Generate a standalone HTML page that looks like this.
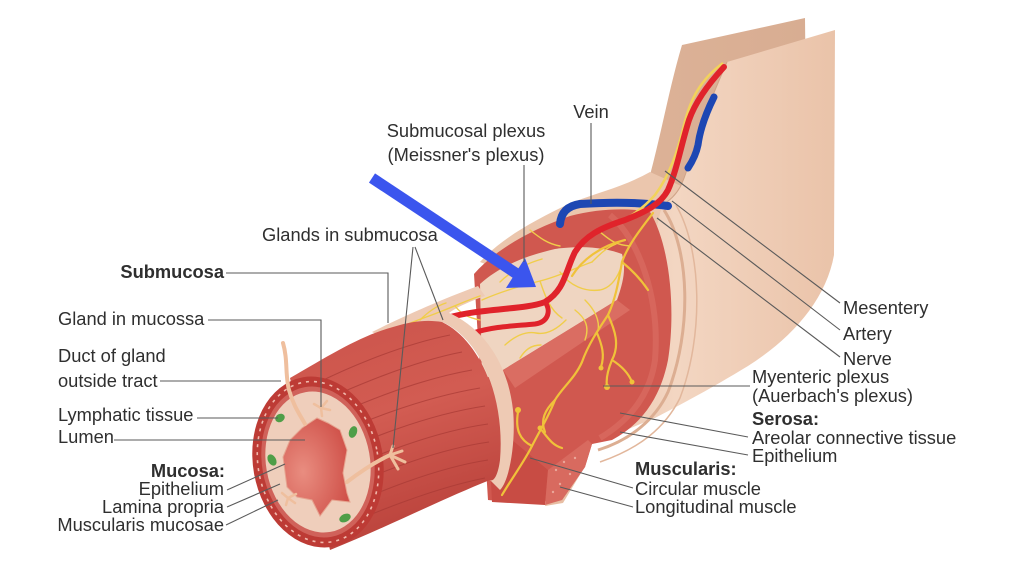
<!DOCTYPE html>
<html><head><meta charset="utf-8">
<style>
html,body{margin:0;padding:0;background:#fff;}
svg{display:block;}
text{font-family:"Liberation Sans",Arial,sans-serif;font-size:18.3px;fill:#2f2f2f;}
.b{font-weight:bold;}
.ln{stroke:#5a5a5a;stroke-width:1.1;fill:none;}
.ny{stroke:#f0cd4a;stroke-width:1.4;fill:none;stroke-linecap:round;}
.nm{stroke:#f0c23a;stroke-width:2.2;fill:none;stroke-linecap:round;}
.st{stroke:#a83a35;stroke-width:1.1;fill:none;opacity:0.7;}
</style></head><body>
<svg width="1024" height="576" viewBox="0 0 1024 576" xmlns="http://www.w3.org/2000/svg">
<defs>
 <linearGradient id="mes" x1="0" y1="0" x2="1" y2="0">
  <stop offset="0" stop-color="#e6bba0"/><stop offset="0.45" stop-color="#f3d6c2"/><stop offset="1" stop-color="#eac3a9"/>
 </linearGradient>
 <linearGradient id="back" x1="0" y1="0" x2="1" y2="0">
  <stop offset="0" stop-color="#e0b69b"/><stop offset="1" stop-color="#d8ad92"/>
 </linearGradient>
 <radialGradient id="lum" cx="0.3" cy="0.55" r="0.7">
  <stop offset="0" stop-color="#e98d80"/><stop offset="1" stop-color="#d0524a"/>
 </radialGradient>
 <linearGradient id="tube" x1="0" y1="0" x2="0.3" y2="1">
  <stop offset="0" stop-color="#cc544b"/><stop offset="0.5" stop-color="#d25c52"/><stop offset="1" stop-color="#bb433c"/>
 </linearGradient>
</defs>

<!-- mesentery back sheet -->
<path d="M 500 245 C 550 215, 610 195, 650 175 C 662 130, 670 85, 682 45 L 805 18 L 806 110 L 720 240 L 520 260 Z" fill="url(#back)"/>
<!-- tube outer top surface -->
<path d="M 480 262 C 500 240, 530 222, 573 202 C 600 192, 625 186, 650 172 L 690 190 L 690 240 L 500 270 Z" fill="#ebc6ad"/>
<!-- front sheet + outer tube surface -->
<path d="M 662 205 C 680 195, 684 180, 690 160 C 702 120, 714 92, 727 62 L 835 30 L 834 255 C 826 300, 792 338, 748 366 C 712 388, 680 405, 655 418 L 590 445 L 584 468 L 563 503 L 545 506 L 560 440 L 640 300 Z" fill="url(#mes)"/>
<path d="M 727 62 C 714 92, 702 120, 690 160 C 684 180, 680 195, 662 205" fill="none" stroke="#cfa488" stroke-width="1"/>
<!-- serosa layer lines -->
<path d="M 664 210 C 690 250, 692 330, 668 392 C 655 420, 630 440, 598 450" fill="none" stroke="#dcae92" stroke-width="3"/>
<path d="M 676 205 C 702 250, 704 335, 680 398 C 665 428, 640 448, 600 462" fill="none" stroke="#e2b79c" stroke-width="1.5"/>

<!-- big tube muscle -->
<path d="M 474 274 C 495 250, 530 230, 570 216 C 600 208, 630 208, 650 212 C 670 245, 676 310, 668 360 C 660 400, 640 425, 612 440 L 592 444 L 585 467 L 562 500 L 520 503 L 488 500 Z" fill="#d0584f"/>
<path d="M 610 215 C 640 240, 660 300, 655 360 C 650 395, 630 420, 600 438" fill="none" stroke="#dc7066" stroke-width="6" opacity="0.6"/>
<!-- circular muscle lower faces -->
<path d="M 488 420 L 548 470 L 545 505 L 492 502 Z" fill="#c84c44"/>
<path d="M 548 470 L 588 440 L 592 444 L 585 467 L 562 500 L 545 505 Z" fill="#d86a5f"/>
<g fill="#efb5a8" opacity="0.8">
<circle cx="556" cy="470" r="1.2"/><circle cx="564" cy="462" r="1.2"/><circle cx="560" cy="484" r="1.2"/><circle cx="570" cy="474" r="1.2"/><circle cx="553" cy="492" r="1.2"/><circle cx="575" cy="458" r="1.2"/>
</g>
<!-- pale submucosa -->
<path d="M 480 284 C 500 266, 525 256, 555 249 C 585 245, 605 248, 622 254 C 626 268, 624 280, 617 300 L 503 370 L 482 380 Z" fill="#efd5c1"/>
<!-- diagonal cut face -->
<path d="M 503 370 L 617 300 L 630 310 L 515 388 Z" fill="#da6d62"/>
<!-- beige band above front tube -->
<path d="M 372 332 C 400 318, 440 300, 478 286 L 485 296 C 460 305, 440 315, 445 322 L 388 340 Z" fill="#eecab4"/>

<!-- submucosal plexus nerves -->
<g class="ny">
<path d="M 482 300 C 500 292, 520 286, 540 281 C 560 276, 575 268, 592 262"/>
<path d="M 500 282 C 510 272, 525 264, 542 259"/>
<path d="M 540 281 C 545 296, 550 310, 562 318"/>
<path d="M 560 272 C 570 286, 585 292, 600 290 C 610 288, 616 280, 620 270"/>
<path d="M 592 262 C 600 254, 606 248, 616 244"/>
<path d="M 505 345 C 515 336, 525 331, 536 333 C 546 335, 556 330, 566 320"/>
<path d="M 520 358 C 525 350, 531 345, 541 345"/>
<path d="M 585 300 C 595 310, 600 320, 598 331"/>
<path d="M 575 310 C 585 318, 590 326, 585 340"/>
<path d="M 395 330 C 410 322, 425 318, 442 311 C 455 306, 468 300, 480 296"/>
<path d="M 420 320 C 428 312, 436 306, 446 303"/>
<path d="M 455 306 C 462 315, 470 318, 480 320"/>
<path d="M 530 230 C 540 238, 548 244, 560 246"/>
<path d="M 600 232 C 610 240, 615 245, 630 246"/>
</g>
<!-- myenteric plexus nerves -->
<g class="nm">
<path d="M 653 213 C 640 230, 628 245, 622 262 C 618 285, 615 300, 608 315 C 598 330, 588 345, 582 362 C 575 378, 562 388, 555 400 C 548 418, 540 430, 532 446 C 524 462, 512 478, 502 495"/>
<path d="M 608 315 C 615 330, 620 345, 612 360 C 607 372, 606 380, 607 386"/>
<path d="M 612 360 C 620 365, 628 372, 632 382"/>
<path d="M 597 333 C 602 345, 605 355, 601 367"/>
<path d="M 622 262 C 632 270, 640 278, 648 290"/>
<path d="M 555 400 C 545 410, 540 420, 545 432"/>
<path d="M 532 446 C 520 440, 515 430, 518 412"/>
<path d="M 540 428 C 548 438, 552 445, 562 448"/>
<path d="M 625 240 C 600 246, 582 260, 572 276"/>
</g>
<g fill="#f0c23a"><circle cx="607" cy="387" r="3"/><circle cx="632" cy="382" r="2.5"/><circle cx="601" cy="368" r="2.5"/><circle cx="518" cy="410" r="3"/><circle cx="540" cy="428" r="2.5"/></g>

<!-- vein (lower) -->
<path d="M 560 224 C 561 213, 567 206, 580 204 C 610 202, 640 202, 668 206" fill="none" stroke="#1d47b3" stroke-width="8" stroke-linecap="round"/>
<!-- vein (upper) -->
<path d="M 714 97 C 705 115, 700 130, 698 145 C 696 155, 692 162, 688 168" fill="none" stroke="#1d47b3" stroke-width="7" stroke-linecap="round"/>
<!-- mesentery nerve -->
<path d="M 723 63 C 700 80, 690 100, 684 125 C 678 150, 670 175, 655 195 C 640 212, 625 220, 610 226" fill="none" stroke="#f2d35a" stroke-width="2.5"/>
<!-- artery -->
<path d="M 724 67 C 712 80, 696 100, 689 120 C 681 145, 677 170, 668 190 C 660 205, 645 212, 625 220 C 600 228, 585 236, 575 252 C 565 272, 565 290, 545 302 C 525 310, 480 308, 447 318" fill="none" stroke="#e0232b" stroke-width="6" stroke-linecap="round"/>
<path d="M 545 302 C 551 310, 549 322, 535 324 C 515 326, 495 326, 473 333" fill="none" stroke="#e0232b" stroke-width="5" stroke-linecap="round"/>

<!-- front tube -->
<path d="M 290 378 C 330 355, 360 336, 393 327 C 415 320, 430 320, 442 322 C 480 340, 505 400, 500 460 C 498 475, 494 482, 490 480 C 440 500, 385 528, 330 550 Z" fill="url(#tube)"/>
<g class="st">
<path d="M 294 395 C 340 370, 400 345, 450 335"/>
<path d="M 298 412 C 350 388, 410 362, 462 352"/>
<path d="M 302 430 C 355 405, 415 380, 472 370"/>
<path d="M 306 447 C 360 422, 420 398, 480 388"/>
<path d="M 310 464 C 365 440, 425 415, 485 406"/>
<path d="M 314 481 C 370 458, 430 432, 488 424"/>
<path d="M 318 498 C 375 475, 432 450, 489 442"/>
<path d="M 322 516 C 378 492, 435 468, 488 460"/>
<path d="M 326 533 C 380 510, 435 488, 485 478"/>
</g>
<!-- beige ring at tube end -->
<path d="M 440 321 C 482 338, 505 400, 500 460 C 498 475, 494 482, 490 480 L 500 490 C 510 480, 516 440, 513 410 C 508 365, 485 328, 447 312 Z" fill="#eecab4"/>

<!-- cross section -->
<g transform="rotate(-10 318 462)">
<ellipse cx="318" cy="462" rx="65" ry="86" fill="#bd3b35"/>
<ellipse cx="318" cy="462" rx="60" ry="81" fill="none" stroke="#f1b9ad" stroke-width="1.6" stroke-dasharray="3 5"/>
<ellipse cx="318" cy="462" rx="56" ry="76" fill="#d0625a"/>
<ellipse cx="318" cy="462" rx="52" ry="71" fill="#efcebb"/>
</g>
<!-- lumen -->
<path d="M 302 428 L 317 418 L 328 423 L 340 430 L 347 450 L 343 473 L 347 493 L 350 502 L 332 500 L 320 516 L 312 500 L 297 497 L 287 487 L 283 457 L 290 440 Z" fill="url(#lum)" stroke="#e6a38f" stroke-width="1"/>
<!-- lymphatic nodules -->
<g fill="#4f9e48">
<ellipse cx="280" cy="418" rx="5" ry="4" transform="rotate(-30 280 418)"/>
<ellipse cx="353" cy="432" rx="4" ry="6" transform="rotate(20 353 432)"/>
<ellipse cx="272" cy="460" rx="4" ry="6" transform="rotate(-30 272 460)"/>
<ellipse cx="345" cy="518" rx="6" ry="4" transform="rotate(-25 345 518)"/>
</g>
<!-- duct and glands -->
<g stroke="#efbf9e" fill="none" stroke-linecap="round">
<path d="M 283 343 C 288 360, 285 375, 289 390 C 293 405, 300 415, 305 424" stroke-width="4"/>
<path d="M 347 482 C 360 472, 375 462, 390 455" stroke-width="4"/>
<path d="M 390 455 L 402 451 M 390 455 L 405 462 M 390 455 L 398 469 M 390 455 L 393 446" stroke-width="3"/>
<path d="M 321 408 L 314 404 M 321 408 L 327 401 M 321 408 L 330 410 M 321 408 L 322 416" stroke-width="2.5"/>
<path d="M 288 498 L 282 493 M 288 498 L 295 503 M 288 498 L 286 505 M 288 498 L 296 494" stroke-width="2.5"/>
</g>

<!-- blue arrow -->
<line x1="372" y1="178" x2="517" y2="274" stroke="#3b55ee" stroke-width="11"/>
<polygon points="536,287 506,288 525,258" fill="#3b55ee"/>

<!-- label lines -->
<g class="ln">
<path d="M 591 123 L 591 204"/>
<path d="M 524 165 L 524 262"/>
<path d="M 413 247 L 393 448"/>
<path d="M 415 247 L 443 320"/>
<path d="M 226 273 L 388 273 L 388 323"/>
<path d="M 208 320 L 321 320 L 321 407"/>
<path d="M 160 381 L 281 381"/>
<path d="M 197 418 L 278 418"/>
<path d="M 114 440 L 305 440"/>
<path d="M 227 490 L 285 464"/>
<path d="M 227 507 L 280 484"/>
<path d="M 226 525 L 278 500"/>
<path d="M 840 303 L 665 171"/>
<path d="M 840 330 L 672 201"/>
<path d="M 840 357 L 657 218"/>
<path d="M 603 386 L 750 386"/>
<path d="M 620 413 L 748 437"/>
<path d="M 620 432 L 748 455"/>
<path d="M 530 458 L 633 488"/>
<path d="M 560 487 L 633 507"/>
</g>

<!-- labels -->
<text x="591" y="118" text-anchor="middle">Vein</text>
<text x="466" y="137" text-anchor="middle">Submucosal plexus</text>
<text x="466" y="161" text-anchor="middle">(Meissner's plexus)</text>
<text x="262" y="241">Glands in submucosa</text>
<text x="224" y="278" text-anchor="end" class="b">Submucosa</text>
<text x="58" y="325">Gland in mucossa</text>
<text x="58" y="362">Duct of gland</text>
<text x="58" y="387">outside tract</text>
<text x="58" y="421">Lymphatic tissue</text>
<text x="58" y="443">Lumen</text>
<text x="225" y="477" text-anchor="end" class="b">Mucosa:</text>
<text x="224" y="495" text-anchor="end">Epithelium</text>
<text x="224" y="513" text-anchor="end">Lamina propria</text>
<text x="224" y="531" text-anchor="end">Muscularis mucosae</text>
<text x="843" y="314">Mesentery</text>
<text x="843" y="340">Artery</text>
<text x="843" y="365">Nerve</text>
<text x="752" y="383">Myenteric plexus</text>
<text x="752" y="402">(Auerbach's plexus)</text>
<text x="752" y="425" class="b">Serosa:</text>
<text x="752" y="444">Areolar connective tissue</text>
<text x="752" y="462">Epithelium</text>
<text x="635" y="475" class="b">Muscularis:</text>
<text x="635" y="495">Circular muscle</text>
<text x="635" y="513">Longitudinal muscle</text>
</svg>
</body></html>
